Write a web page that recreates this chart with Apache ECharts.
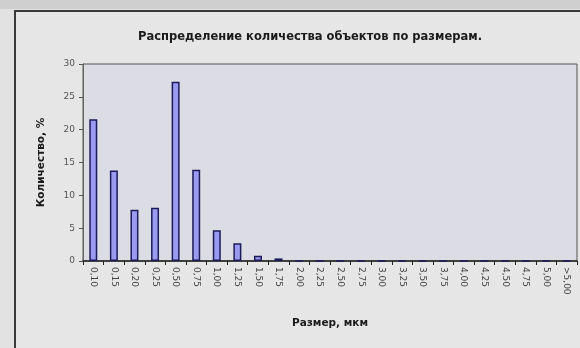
<!DOCTYPE html>
<html>
<head>
<meta charset="utf-8">
<script src="https://cdn.jsdelivr.net/npm/echarts@6/dist/echarts.min.js"></script>
<style>
  html, body { margin: 0; padding: 0; background: #dcdcdc; }
  #chart { width: 580px; height: 348px; }
</style>
</head>
<body>
<div id="chart"></div>
<script>
// Size classes, µm
const sizes = ['0,10', '0,15', '0,20', '0,25', '0,50', '0,75', '1,00', '1,25', '1,50', '1,75',
               '2,00', '2,25', '2,50', '2,75', '3,00', '3,25', '3,50', '3,75', '4,00', '4,25',
               '4,50', '4,75', '5,00', '>5,00'];
// Share of objects in each size class, %
const shares = [21.6, 13.8, 7.8, 8.1, 27.3, 13.9, 4.7, 2.7, 0.8, 0.4,
                0, 0, 0, 0, 0, 0, 0, 0, 0, 0,
                0, 0, 0, 0];
const yTicks = { min: 0, max: 30, step: 5 };

const chart = echarts.init(document.getElementById('chart'), null, { renderer: 'canvas' });

const titleFont = { fontFamily: 'DejaVu Sans', fontWeight: 'bold', fontSize: 11.5, color: '#1a1a1a' };
const nameFont = { fontFamily: 'DejaVu Sans', fontWeight: 'bold', fontSize: 10.5, color: '#1a1a1a' };

chart.setOption({
  backgroundColor: '#e2e2e2',
  animation: false,
  graphic: [
    { type: 'rect', z: -10, shape: { x: 0, y: 0, width: 580, height: 9 }, style: { fill: '#cfcfcf' } },
    { type: 'rect', z: -9, shape: { x: 15, y: 11, width: 570, height: 345 },
      style: { fill: '#e6e6e6', stroke: '#3a3a3a', lineWidth: 2 } }
  ],
  title: {
    text: 'Распределение количества объектов по размерам.',
    left: 305, top: 26, textAlign: 'center',
    textStyle: titleFont
  },
  grid: { left: 83, right: 3, top: 64, bottom: 87, show: true,
          backgroundColor: '#dcdce4', borderColor: '#555', borderWidth: 1 },
  xAxis: {
    type: 'category',
    data: sizes,
    name: 'Размер, мкм',
    nameLocation: 'middle',
    nameGap: 57,
    nameTextStyle: nameFont,
    axisLine: { lineStyle: { color: '#222', width: 1.5 } },
    axisTick: { show: true, length: 4, lineStyle: { color: '#222' } },
    axisLabel: { rotate: -90, fontSize: 9, fontFamily: 'DejaVu Sans', color: '#444', margin: 6 },
    splitLine: { show: false }
  },
  yAxis: {
    type: 'value',
    min: yTicks.min, max: yTicks.max, interval: yTicks.step,
    name: 'Количество, %',
    nameLocation: 'middle',
    nameGap: 36,
    nameRotate: 90,
    nameTextStyle: nameFont,
    axisLine: { show: true, lineStyle: { color: '#666' } },
    axisTick: { show: true, length: 4, lineStyle: { color: '#555' } },
    axisLabel: { fontSize: 9, fontFamily: 'DejaVu Sans', color: '#555', margin: 8 },
    splitLine: { show: false }
  },
  series: [{
    type: 'bar',
    data: shares,
    barWidth: 8,
    itemStyle: { color: '#9a9af0', borderColor: '#1c1c5a', borderWidth: 1.5 }
  }]
});
</script>
</body>
</html>
